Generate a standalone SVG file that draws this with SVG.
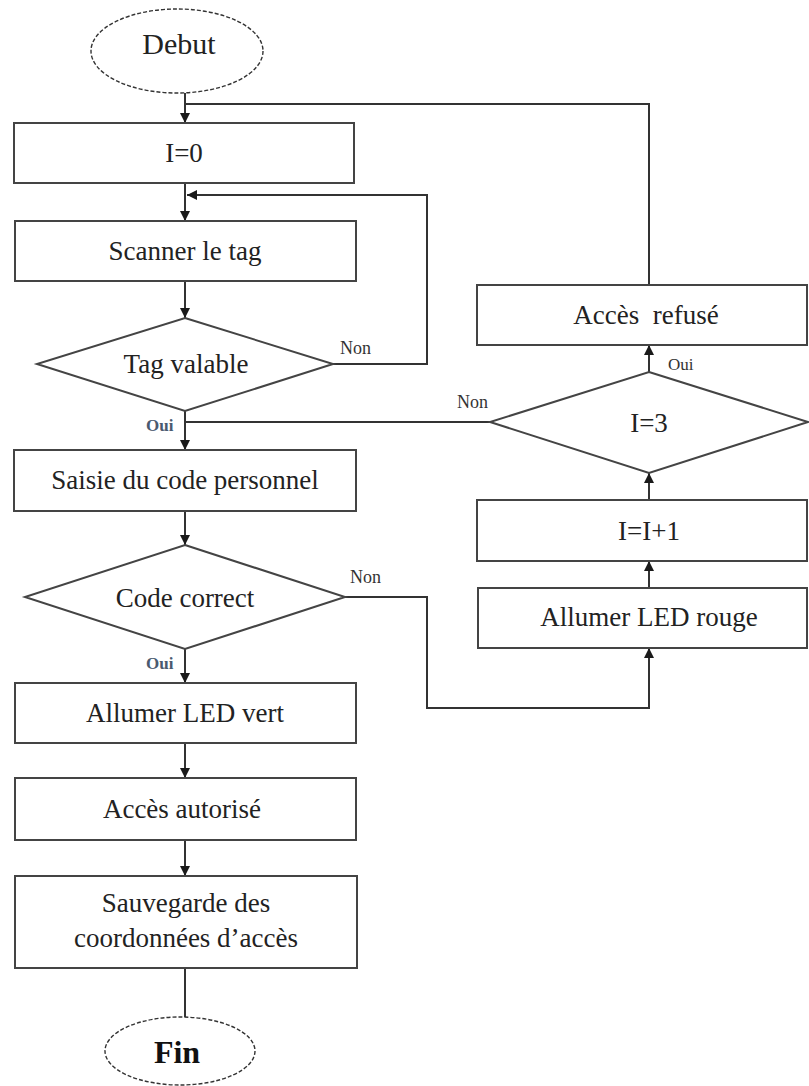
<svg xmlns="http://www.w3.org/2000/svg" width="809" height="1086" viewBox="0 0 809 1086">
  <defs>
    <marker id="arrow" viewBox="0 0 10 10" refX="10" refY="5" markerWidth="10" markerHeight="11" markerUnits="userSpaceOnUse" orient="auto">
      <path d="M0,0 L10,5 L0,10 z" fill="#1a1a1a"/>
    </marker>
    <style>
      .box { fill: #ffffff; stroke: #444444; stroke-width: 2; }
      .term { fill: #ffffff; stroke: #333333; stroke-width: 1.4; stroke-dasharray: 4 2; }
      .link { fill: none; stroke: #333333; stroke-width: 2; }
      .lbl { font-family: "Liberation Serif", "Times New Roman", serif; font-size: 27px; fill: #222222; text-anchor: middle; }
      .small { font-family: "Liberation Serif", "Times New Roman", serif; font-size: 18px; fill: #333333; }
      .oui { font-family: "Liberation Serif", "Times New Roman", serif; font-size: 17px; font-weight: bold; fill: #4a5a70; }
    </style>
  </defs>
  <rect width="809" height="1086" fill="#ffffff"/>

  <!-- connectors -->
  <g id="connectors">
    <path class="link" d="M185,93 V123" marker-end="url(#arrow)"/>
    <path class="link" d="M649,285 V104 H185"/>
    <path class="link" d="M185,183 V221" marker-end="url(#arrow)"/>
    <path class="link" d="M333,364 H427 V195 H187" marker-end="url(#arrow)"/>
    <path class="link" d="M185,281 V318" marker-end="url(#arrow)"/>
    <path class="link" d="M185,411 V450" marker-end="url(#arrow)"/>
    <path class="link" d="M490,422 H185"/>
    <path class="link" d="M185,511 V545" marker-end="url(#arrow)"/>
    <path class="link" d="M345,597 H427 V708 H649 V648" marker-end="url(#arrow)"/>
    <path class="link" d="M649,588 V561" marker-end="url(#arrow)"/>
    <path class="link" d="M649,500 V473" marker-end="url(#arrow)"/>
    <path class="link" d="M649,372 V345" marker-end="url(#arrow)"/>
    <path class="link" d="M185,649 V683" marker-end="url(#arrow)"/>
    <path class="link" d="M185,743 V778" marker-end="url(#arrow)"/>
    <path class="link" d="M185,840 V876" marker-end="url(#arrow)"/>
    <path class="link" d="M185,968 V1017"/>
    <text class="small" x="340" y="354">Non</text>
    <text class="oui" x="146" y="431">Oui</text>
    <text class="small" x="350" y="583">Non</text>
    <text class="oui" x="146" y="669">Oui</text>
    <text class="small" x="457" y="408">Non</text>
    <text class="small" x="668" y="370" style="font-size:17px">Oui</text>
  </g>

  <g id="debut">
    <ellipse class="term" cx="177" cy="51" rx="86" ry="42"/>
    <text class="lbl" x="179" y="54" style="font-size:30px">Debut</text>
  </g>

  <g id="init">
    <rect class="box" x="14" y="123" width="340" height="60"/>
    <text class="lbl" x="184" y="162">I=0</text>
  </g>

  <g id="scan">
    <rect class="box" x="15" y="221" width="341" height="60"/>
    <text class="lbl" x="185" y="260">Scanner le tag</text>
  </g>

  <g id="tag-valid">
    <polygon class="box" points="185,318 333,364 185,411 37,364"/>
    <text class="lbl" x="186" y="373">Tag valable</text>
  </g>

  <g id="code-entry">
    <rect class="box" x="14" y="450" width="342" height="61"/>
    <text class="lbl" x="185" y="489">Saisie du code personnel</text>
  </g>

  <g id="code-check">
    <polygon class="box" points="185,545 345,597 185,649 25,597"/>
    <text class="lbl" x="185" y="607">Code correct</text>
  </g>

  <g id="led-green">
    <rect class="box" x="15" y="683" width="341" height="60"/>
    <text class="lbl" x="185" y="722">Allumer LED vert</text>
  </g>

  <g id="granted">
    <rect class="box" x="15" y="778" width="341" height="62"/>
    <text class="lbl" x="182" y="818">Accès autorisé</text>
  </g>

  <g id="save">
    <rect class="box" x="15" y="876" width="342" height="92"/>
    <text class="lbl" x="186" y="912">Sauvegarde des</text>
    <text class="lbl" x="186" y="947">coordonnées d’accès</text>
  </g>

  <g id="fin">
    <ellipse class="term" cx="180" cy="1051" rx="75" ry="34"/>
    <text class="lbl" x="177" y="1063" style="font-size:32px;font-weight:bold;fill:#111111">Fin</text>
  </g>

  <g id="denied">
    <rect class="box" x="477" y="285" width="330" height="60"/>
    <text class="lbl" x="646" y="324" xml:space="preserve">Accès  refusé</text>
  </g>

  <g id="count-check">
    <polygon class="box" points="649,372 808,422 649,473 490,422"/>
    <text class="lbl" x="649" y="432">I=3</text>
  </g>

  <g id="increment">
    <rect class="box" x="477" y="500" width="330" height="61"/>
    <text class="lbl" x="649" y="540">I=I+1</text>
  </g>

  <g id="led-red">
    <rect class="box" x="478" y="588" width="329" height="60"/>
    <text class="lbl" x="649" y="626">Allumer LED rouge</text>
  </g>
</svg>
